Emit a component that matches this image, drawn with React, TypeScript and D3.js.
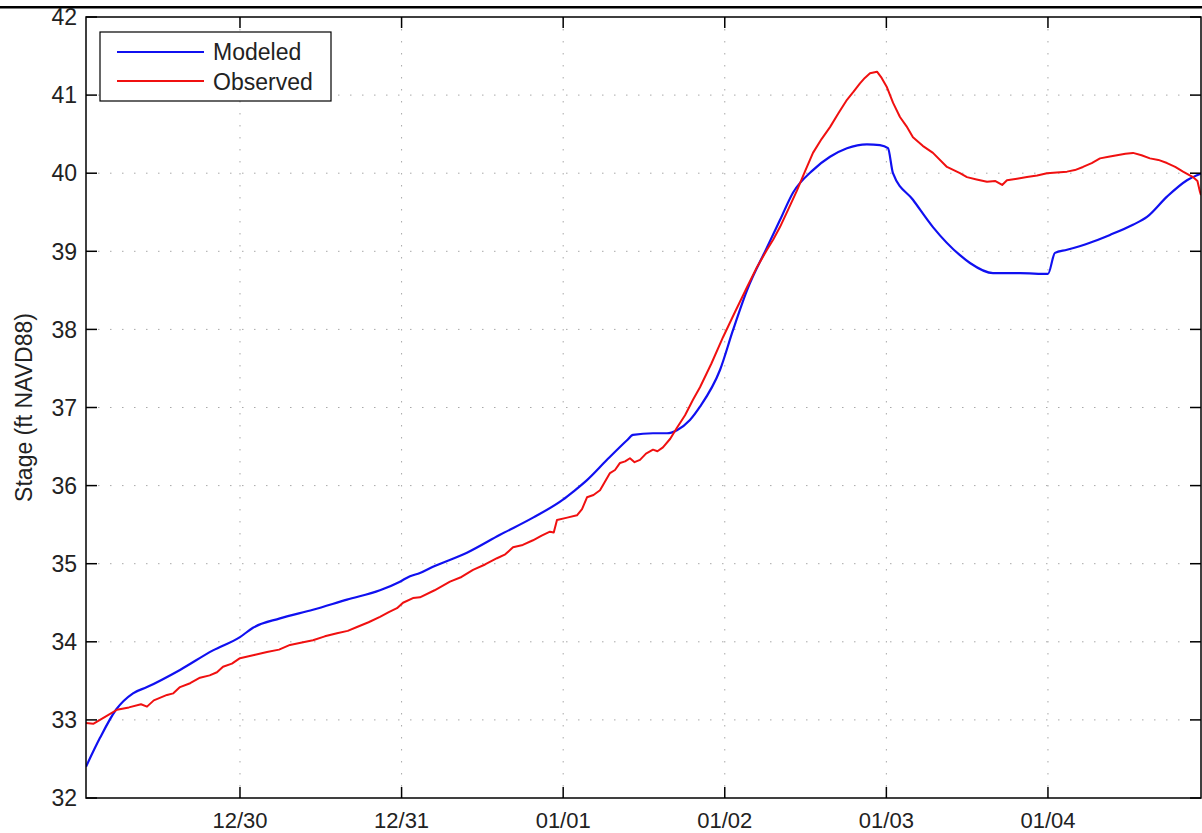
import * as d3 from "d3";

const width = 1202;
const height = 833;
const plotLeft = 86;
const plotRight = 1201;
const plotTop = 17;
const plotBottom = 798;
const tickLen = 11;
const font = "'Liberation Sans', Arial, Helvetica, sans-serif";

// hours are counted from 12/29 00:00
const origin = new Date(2013, 11, 29);
const hoursStart = 1.13;
const hoursEnd = 166.73;

const modeledHours = [
  1.13, 3.21, 5.58, 8.11, 10.19, 15.09, 19.99, 24, 25.93, 29.94, 34.84, 39.89,
  44.79, 47.76, 49.25, 50.73, 52.66, 57.71, 62.62, 67.52, 71.97, 73.46, 75.54,
  78.51, 81.48, 82.37, 85.34, 87.42, 88.9, 90.83, 92.32, 95.29, 97.22, 99.3,
  102.27, 104.2, 106.13, 109.1, 111.63, 114.15, 117.12, 119.05, 120.24, 120.98,
  123.95, 126.92, 130.93, 132.42, 135.84, 139.85, 144.0, 145.04, 146.83, 150.24,
  153.21, 156.63, 158.71, 161.68, 164.65, 166.88,
];
const modeledStage = [
  32.4, 32.77, 33.13, 33.34, 33.42, 33.64, 33.89, 34.06, 34.18, 34.3, 34.41,
  34.54, 34.66, 34.77, 34.84, 34.88, 34.96, 35.14, 35.37, 35.59, 35.82, 35.92,
  36.07, 36.33, 36.58, 36.65, 36.67, 36.67, 36.71, 36.84, 37.01, 37.48, 37.99,
  38.5, 39.05, 39.4, 39.75, 40.04, 40.21, 40.32, 40.37, 40.36, 40.32, 40.0,
  39.66, 39.31, 38.95, 38.85, 38.72, 38.72, 38.71, 38.98, 39.02, 39.11, 39.21,
  39.34, 39.44, 39.7, 39.91, 40.0,
];

const observedHours = [
  1.13, 2.2, 3.21, 4.4, 5.73, 7.5, 9.3, 10.19, 11.2, 13.16, 14.1, 15.09, 16.6,
  18.06, 19.5, 20.58, 21.48, 22.8, 24, 26.1, 28.01, 29.8, 31.43, 33.2, 34.84,
  36.6, 38.41, 40.0, 41.38, 43.1, 44.79, 46.1, 47.32, 48.21, 49.69, 50.73, 52.9,
  55.19, 56.9, 58.61, 60.4, 62.17, 63.4, 64.55, 66.0, 67.52, 68.8, 70.04, 70.6,
  71.08, 72.6, 74.05, 74.8, 75.54, 76.5, 77.47, 78.2, 78.95, 79.7, 80.44, 81.2,
  81.92, 82.6, 83.41, 84.3, 85.34, 86.0, 86.82, 87.9, 88.9, 90.1, 91.28, 92.32,
  94.0, 95.74, 97.5, 99.3, 100.8, 102.27, 103.2, 104.2, 105.5, 106.73, 107.9,
  109.1, 110.4, 111.63, 112.9, 114.15, 115.1, 116.08, 116.8, 117.57, 118.61,
  119.3, 120.09, 121.0, 122.02, 123.0, 123.95, 125.4, 126.92, 129.0, 130.93,
  131.97, 133.4, 134.94, 136.2, 137.2, 137.91, 139.4, 140.88, 142.4, 143.85,
  145.3, 146.83, 148.0, 149.2, 150.5, 151.73, 153.0, 154.25, 155.5, 156.63,
  157.9, 159.15, 160.4, 161.68, 162.9, 164.06, 165.54, 166.2, 166.58, 166.73,
];
const observedStage = [
  32.96, 32.95, 33.0, 33.06, 33.13, 33.16, 33.2, 33.17, 33.25, 33.32, 33.34,
  33.42, 33.47, 33.54, 33.57, 33.61, 33.68, 33.72, 33.79, 33.83, 33.87, 33.9,
  33.96, 33.99, 34.02, 34.07, 34.11, 34.14, 34.19, 34.25, 34.32, 34.38, 34.43,
  34.5, 34.56, 34.57, 34.66, 34.77, 34.83, 34.92, 34.99, 35.07, 35.12, 35.21,
  35.24, 35.3, 35.36, 35.41, 35.4, 35.56, 35.59, 35.62, 35.7, 35.85, 35.88,
  35.94, 36.05, 36.16, 36.2, 36.29, 36.31, 36.35, 36.3, 36.33, 36.41, 36.46,
  36.44, 36.49, 36.6, 36.74, 36.9, 37.1, 37.26, 37.56, 37.9, 38.22, 38.54, 38.8,
  39.02, 39.15, 39.31, 39.55, 39.78, 40.02, 40.26, 40.44, 40.59, 40.77, 40.94,
  41.04, 41.15, 41.22, 41.28, 41.3, 41.22, 41.1, 40.9, 40.72, 40.6, 40.46, 40.35,
  40.26, 40.08, 40.0, 39.95, 39.92, 39.89, 39.9, 39.85, 39.91, 39.93, 39.95,
  39.97, 40.0, 40.01, 40.02, 40.04, 40.08, 40.13, 40.19, 40.21, 40.23, 40.25,
  40.26, 40.23, 40.19, 40.17, 40.13, 40.08, 40.02, 39.95, 39.9, 39.76, 39.72,
];

const stageTicks = [32, 33, 34, 35, 36, 37, 38, 39, 40, 41, 42];
const dayTicks = [1, 2, 3, 4, 5, 6]; // days after 12/29

type Point = { date: Date; stage: number };

const toDate = (h: number) => new Date(origin.getTime() + h * 3600 * 1000);

const modeled: Point[] = modeledHours.map((h, i) => ({ date: toDate(h), stage: modeledStage[i] }));
const observed: Point[] = observedHours.map((h, i) => ({ date: toDate(h), stage: observedStage[i] }));

const App = () => {
  const x = d3
    .scaleTime()
    .domain([toDate(hoursStart), toDate(hoursEnd)])
    .range([plotLeft, plotRight]);

  const y = d3.scaleLinear().domain([32, 42]).range([plotBottom, plotTop]);

  const xTicks = dayTicks.map((d) => toDate(d * 24));
  const fmt = d3.timeFormat("%m/%d");

  const modeledLine = d3
    .line<Point>()
    .x((d) => x(d.date))
    .y((d) => y(d.stage))
    .curve(d3.curveMonotoneX);

  const observedLine = d3
    .line<Point>()
    .x((d) => x(d.date))
    .y((d) => y(d.stage));

  const grid = { stroke: "#a8a8a8", strokeWidth: 1, strokeDasharray: "1.5 10.5" };

  return (
    <svg
      width={width}
      height={height}
      viewBox={`0 0 ${width} ${height}`}
      style={{ position: "fixed", left: 0, top: 0, background: "#fff" }}
      fontFamily={font}
    >
      <defs>
        <clipPath id="plot-clip">
          <rect x={plotLeft} y={plotTop} width={plotRight - plotLeft} height={plotBottom - plotTop} />
        </clipPath>
      </defs>

      <rect x={0} y={6} width={width} height={2.5} fill="#000" />

      {/* grid */}
      {xTicks.map((t, i) => (
        <line key={"gx" + i} x1={x(t)} x2={x(t)} y1={plotTop} y2={plotBottom} {...grid} />
      ))}
      {stageTicks.slice(1, -1).map((s) => (
        <line key={"gy" + s} x1={plotLeft} x2={plotRight} y1={y(s)} y2={y(s)} {...grid} />
      ))}

      {/* data */}
      <g clipPath="url(#plot-clip)" fill="none">
        <path d={modeledLine(modeled) as string} stroke="#1010f0" strokeWidth={2.2} />
        <path d={observedLine(observed) as string} stroke="#f01010" strokeWidth={2} strokeLinejoin="round" />
      </g>

      {/* axes box */}
      <rect
        x={plotLeft}
        y={plotTop}
        width={plotRight - plotLeft}
        height={plotBottom - plotTop}
        fill="none"
        stroke="#000"
        strokeWidth={1.5}
      />

      {/* ticks */}
      {xTicks.map((t, i) => (
        <g key={"tx" + i} stroke="#000" strokeWidth={1.5}>
          <line x1={x(t)} x2={x(t)} y1={plotBottom} y2={plotBottom - tickLen} />
          <line x1={x(t)} x2={x(t)} y1={plotTop} y2={plotTop + tickLen} />
        </g>
      ))}
      {stageTicks.map((s) => (
        <g key={"ty" + s} stroke="#000" strokeWidth={1.5}>
          <line x1={plotLeft} x2={plotLeft + tickLen} y1={y(s)} y2={y(s)} />
          <line x1={plotRight} x2={plotRight - tickLen} y1={y(s)} y2={y(s)} />
        </g>
      ))}

      {/* tick labels */}
      {xTicks.map((t, i) => (
        <text key={"lx" + i} x={x(t)} y={828} textAnchor="middle" fontSize={22} fill="#222">
          {fmt(t)}
        </text>
      ))}
      {stageTicks.map((s) => (
        <text key={"ly" + s} x={77} y={y(s)} dy="0.36em" textAnchor="end" fontSize={23} fill="#222">
          {s}
        </text>
      ))}

      <text
        transform={`translate(32, ${(plotTop + plotBottom) / 2}) rotate(-90)`}
        textAnchor="middle"
        fontSize={23}
        fill="#222"
      >
        Stage (ft NAVD88)
      </text>

      {/* legend */}
      <g>
        <rect x={100} y={32} width={231} height={69} fill="#fff" stroke="#000" strokeWidth={1.2} />
        <line x1={117} x2={204} y1={52} y2={52} stroke="#1010f0" strokeWidth={2} />
        <line x1={117} x2={204} y1={81} y2={81} stroke="#f01010" strokeWidth={2} />
        <text x={213} y={60} fontSize={23} fill="#222">Modeled</text>
        <text x={213} y={90} fontSize={23} fill="#222">Observed</text>
      </g>
    </svg>
  );
};

export default App;
